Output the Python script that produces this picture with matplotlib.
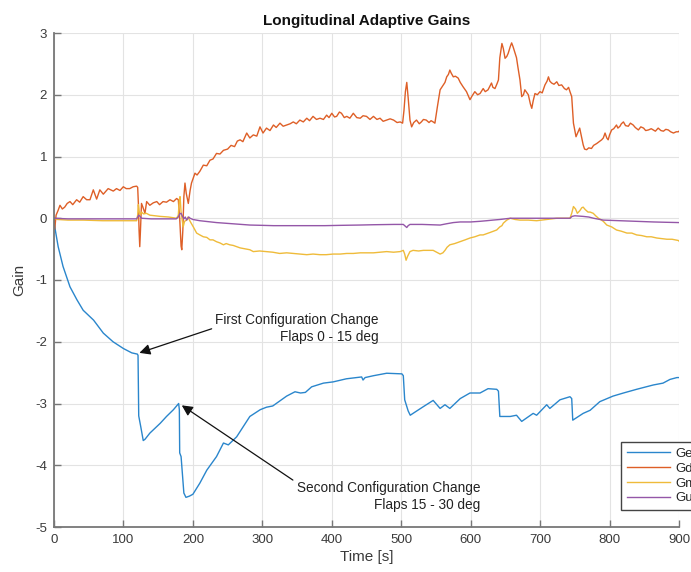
import matplotlib
matplotlib.use("Agg")
import matplotlib.pyplot as plt

plt.rcParams['font.family'] = ['Liberation Sans', 'DejaVu Sans']
plt.rcParams['axes.unicode_minus'] = False

# ---- data: time [s] and gain values for each adaptive gain ----
ge_t = [0, 2, 6, 13, 23, 33, 42, 57, 71, 85, 100, 112, 120, 121, 122, 125, 128.5, 131,
        138, 153, 162, 172, 179.5, 180.5, 181, 183, 187, 190, 195, 200, 210, 220, 234,
        244, 251, 263, 282, 297, 306, 315, 325, 335, 347, 355, 362, 371, 388, 402, 421,
        443, 445, 448, 460, 479, 501, 503, 505, 510, 513, 517, 532, 546, 556, 563, 570,
        585, 599, 613.5, 625, 637.5, 640, 642, 657, 666, 673.5, 690, 695, 709.5, 714,
        728.6, 743, 745.5, 747, 762, 772, 786, 805, 820, 839, 863, 877, 887, 897, 900]
ge_v = [0.0, -0.2, -0.46, -0.78, -1.11, -1.32, -1.49, -1.65, -1.86, -2.0, -2.11, -2.18,
        -2.2, -2.22, -3.2, -3.38, -3.6, -3.58, -3.48, -3.32, -3.21, -3.1, -3.0, -3.1, -3.8,
        -3.86, -4.45, -4.52, -4.5, -4.47, -4.29, -4.08, -3.86, -3.64, -3.67, -3.54, -3.21,
        -3.1, -3.06, -3.04, -2.96, -2.88, -2.81, -2.83, -2.82, -2.73, -2.67, -2.65, -2.6,
        -2.57, -2.62, -2.58, -2.55, -2.51, -2.52, -2.55, -2.94, -3.12, -3.19, -3.16, -3.05,
        -2.95, -3.08, -3.02, -3.08, -2.92, -2.83, -2.83, -2.76, -2.77, -2.8, -3.21, -3.21,
        -3.19, -3.29, -3.16, -3.19, -3.02, -3.08, -2.94, -2.89, -2.92, -3.27, -3.16, -3.11,
        -2.97, -2.88, -2.83, -2.77, -2.7, -2.67, -2.61, -2.58, -2.58]

gd_t = [0, 1, 3, 6, 8.6, 12, 15.4, 19, 23, 27, 32.6, 37, 42, 47, 51.8, 56.6, 61.4, 66, 71,
        78, 85.4, 90, 95, 99.8, 104, 109, 114, 119, 120.5, 121.5, 122.5, 123.5, 124.5, 126,
        128, 131, 133.4, 138, 143, 148, 152, 157, 162, 167, 172, 176.6, 179, 181, 183, 184,
        185.5, 187, 188.6, 190.5, 193.4, 196, 198, 203, 206, 210, 215, 220, 224.6, 229, 234,
        239, 244, 250, 255, 260, 264, 268, 272, 277.5, 282, 287, 292, 296.6, 301, 306, 311,
        316, 320, 325.4, 330, 335, 340, 344.6, 349, 354, 359, 364, 368, 373, 378, 383, 388,
        392.6, 396, 400, 404, 407, 411, 414, 418, 421.6, 426, 431, 436, 441, 445, 450, 455,
        460, 465, 469.5, 474, 479, 484, 489, 494, 498.5, 502, 504, 506, 508, 510, 512.6, 515,
        518, 522, 526, 529, 532, 536, 540, 543, 546, 548.5, 552, 556, 560.6, 563, 565.5, 568,
        570, 572, 575, 578, 582, 585, 589, 594, 599, 602, 606, 610, 613.5, 618, 621, 625,
        630, 632, 635, 638, 640, 642, 645, 647, 649.5, 652, 654, 657, 659, 661, 664, 666,
        668, 671, 673.5, 676, 678, 683, 686, 688, 690, 692.6, 696, 699.8, 703, 707, 710, 712,
        714, 716.6, 720, 724, 727, 731, 735, 738, 741, 743, 745.5, 748, 751.7, 754, 757, 759,
        762, 764, 767, 770, 774, 777, 781.5, 785, 788.6, 791, 793.5, 796, 798, 800, 803, 806,
        810, 812, 815, 817, 820, 823, 827, 830, 834, 837, 841.5, 845, 849, 852, 856, 860,
        863, 866, 870, 874, 877.6, 881, 884.6, 888, 892, 896, 899, 900]
gd_v = [0.0, -0.18, 0.05, 0.13, 0.21, 0.15, 0.18, 0.24, 0.27, 0.22, 0.3, 0.26, 0.35, 0.3,
        0.3, 0.46, 0.31, 0.46, 0.39, 0.48, 0.44, 0.48, 0.45, 0.51, 0.48, 0.48, 0.51, 0.52,
        0.5, 0.24, -0.2, -0.46, -0.2, 0.24, 0.18, 0.08, 0.27, 0.21, 0.25, 0.27, 0.22, 0.27,
        0.26, 0.3, 0.27, 0.32, 0.3, 0.0, -0.45, -0.51, -0.2, 0.35, 0.57, 0.4, 0.24, 0.45,
        0.57, 0.73, 0.7, 0.76, 0.86, 0.85, 0.94, 0.96, 1.05, 1.04, 1.1, 1.12, 1.18, 1.16,
        1.25, 1.27, 1.24, 1.38, 1.3, 1.35, 1.33, 1.48, 1.38, 1.46, 1.42, 1.51, 1.47, 1.54,
        1.49, 1.51, 1.53, 1.56, 1.53, 1.59, 1.56, 1.62, 1.58, 1.65, 1.6, 1.62, 1.6, 1.67,
        1.63, 1.7, 1.64, 1.65, 1.72, 1.7, 1.63, 1.65, 1.62, 1.7, 1.63, 1.62, 1.66, 1.65,
        1.6, 1.65, 1.6, 1.62, 1.57, 1.59, 1.61, 1.59, 1.55, 1.56, 1.54, 1.75, 2.05, 2.2,
        1.95, 1.59, 1.48, 1.55, 1.59, 1.53, 1.56, 1.6, 1.59, 1.55, 1.58, 1.56, 1.54, 1.8,
        2.08, 2.16, 2.2, 2.29, 2.33, 2.4, 2.35, 2.29, 2.3, 2.27, 2.2, 2.13, 2.05, 1.92, 1.98,
        2.05, 2.0, 2.02, 2.1, 2.05, 2.08, 2.19, 2.12, 2.1, 2.18, 2.24, 2.6, 2.83, 2.75, 2.59,
        2.62, 2.67, 2.78, 2.84, 2.78, 2.67, 2.6, 2.45, 2.24, 1.97, 2.0, 2.08, 2.0, 1.85,
        1.78, 1.9, 2.02, 2.0, 2.05, 2.03, 2.16, 2.22, 2.29, 2.22, 2.19, 2.17, 2.21, 2.15,
        2.16, 2.1, 2.08, 2.12, 2.05, 1.97, 1.54, 1.32, 1.38, 1.46, 1.35, 1.19, 1.12, 1.11,
        1.14, 1.13, 1.18, 1.21, 1.24, 1.27, 1.3, 1.38, 1.3, 1.27, 1.35, 1.43, 1.45, 1.51,
        1.46, 1.49, 1.53, 1.56, 1.5, 1.49, 1.54, 1.51, 1.47, 1.43, 1.48, 1.46, 1.42, 1.43,
        1.45, 1.43, 1.41, 1.46, 1.42, 1.41, 1.44, 1.43, 1.4, 1.38, 1.4, 1.4, 1.41]

gm_t = [0, 5, 20, 42, 70, 90, 110, 119, 120.5, 121.5, 122.5, 124, 126, 129, 133, 138, 145,
        153, 165, 176.6, 179, 180.5, 181.5, 183, 186, 188, 191, 193, 196, 200.6, 205.4, 210,
        215, 220, 224.6, 229, 234, 239, 244, 248, 253, 258, 263, 268, 272.6, 277, 282, 287,
        296, 306, 315, 325, 335, 344.6, 355, 364, 373, 383, 392, 402, 412, 421.6, 431, 441,
        450, 460, 470, 479, 489, 498.5, 503, 505, 507, 509, 512.6, 517, 525, 532, 540, 546,
        551, 556, 560, 563, 566, 570, 577, 584.6, 592, 599, 606, 613.5, 618, 628, 637.5,
        642, 645, 647, 652, 657, 664, 671, 683, 695, 709.5, 724, 743, 745.5, 748, 751,
        753.6, 757, 760, 762, 765, 769, 772, 776.5, 780, 784, 787, 791, 796, 803, 810, 817,
        825, 832, 839, 846, 853.6, 860, 868, 875, 882.6, 890, 899, 900]
gm_v = [0.0, -0.02, -0.03, -0.03, -0.04, -0.04, -0.04, -0.04, 0.05, 0.22, 0.12, 0.05, 0.1,
        0.07, 0.08, 0.05, 0.04, 0.03, 0.02, 0.0, 0.05, 0.3, 0.35, 0.1, -0.14, -0.05, -0.03,
        0.02, -0.05, -0.14, -0.24, -0.27, -0.3, -0.31, -0.35, -0.35, -0.38, -0.4, -0.43,
        -0.41, -0.43, -0.44, -0.46, -0.48, -0.49, -0.5, -0.51, -0.54, -0.53, -0.54, -0.55,
        -0.57, -0.56, -0.57, -0.58, -0.59, -0.58, -0.59, -0.59, -0.58, -0.58, -0.57, -0.57,
        -0.56, -0.56, -0.56, -0.55, -0.54, -0.55, -0.54, -0.52, -0.58, -0.68, -0.62, -0.54,
        -0.52, -0.53, -0.52, -0.52, -0.52, -0.55, -0.58, -0.56, -0.52, -0.47, -0.43, -0.41,
        -0.38, -0.35, -0.32, -0.3, -0.27, -0.27, -0.23, -0.19, -0.14, -0.12, -0.08, -0.03,
        0.0, -0.02, -0.03, -0.03, -0.04, -0.02, 0.0, 0.0, 0.08, 0.19, 0.15, 0.08, 0.12,
        0.17, 0.18, 0.14, 0.1, 0.1, 0.08, 0.04, 0.0, -0.02, -0.05, -0.11, -0.14, -0.19,
        -0.21, -0.24, -0.24, -0.27, -0.28, -0.3, -0.3, -0.32, -0.33, -0.34, -0.34, -0.36,
        -0.37]

gu_t = [0, 20, 60, 100, 119, 120.5, 122, 124, 126, 140, 160, 176, 179, 181, 183, 185, 187,
        189, 191, 194, 196, 200, 210, 222, 234, 246, 258, 270, 282, 300, 316, 340, 364, 390,
        412, 440, 460, 490, 503, 506, 508, 510, 512.6, 530, 556, 565, 575, 585, 600, 613,
        623, 632, 642, 657, 700, 743, 746, 750, 762, 770, 777, 791, 815, 839, 863, 880, 900]
gu_v = [0.0, -0.01, -0.01, -0.01, -0.01, 0.02, 0.05, 0.03, 0.0, -0.01, -0.01, -0.01, 0.02,
        0.07, 0.08, 0.03, -0.01, 0.02, -0.03, 0.02, 0.0, -0.02, -0.04, -0.055, -0.07, -0.08,
        -0.09, -0.1, -0.11, -0.115, -0.12, -0.12, -0.12, -0.12, -0.115, -0.11, -0.105, -0.1,
        -0.1, -0.13, -0.15, -0.12, -0.1, -0.1, -0.11, -0.09, -0.07, -0.06, -0.06, -0.05,
        -0.04, -0.03, -0.02, 0.0, 0.0, 0.0, 0.03, 0.04, 0.03, 0.02, 0.0, -0.03, -0.04, -0.05,
        -0.06, -0.065, -0.07]

series_labels = ["Ge", "Gd", "Gm", "Gu"]
series_colors = ["#2a86cc", "#de5f27", "#efbb3a", "#9457a8"]

x_ticks = [0, 100, 200, 300, 400, 500, 600, 700, 800, 900]
y_ticks = [-5, -4, -3, -2, -1, 0, 1, 2, 3]

# ---- figure ----
fig = plt.figure(figsize=(6.91, 5.72), dpi=100)
ax = fig.add_axes([54 / 691, 1 - 527 / 572, 625 / 691, 494 / 572])

for t, v, lab, col in zip([ge_t, gd_t, gm_t, gu_t], [ge_v, gd_v, gm_v, gu_v],
                          series_labels, series_colors):
    ax.plot(t, v, color=col, lw=1.0, label=lab)

ax.set_xlim(0, 900)
ax.set_ylim(-5, 3)
ax.set_xticks(x_ticks)
ax.set_yticks(y_ticks)
ax.grid(True, color="#e3e3e3", lw=0.8)
ax.set_axisbelow(True)

axis_gray = "#777777"
for side in ("top", "right"):
    ax.spines[side].set_visible(False)
for side in ("left", "bottom"):
    ax.spines[side].set_color(axis_gray)
    ax.spines[side].set_linewidth(1.3)
ax.tick_params(direction="in", length=5, width=1.0, color=axis_gray,
               labelcolor="#3a3a3a", labelsize=9.5, pad=5)

ax.set_title("Longitudinal Adaptive Gains", fontsize=11, fontweight="bold",
             color="#111111", pad=6)
ax.set_xlabel("Time [s]", fontsize=11, color="#3a3a3a", labelpad=3)
ax.set_ylabel("Gain", fontsize=11, color="#3a3a3a", labelpad=6)

# ---- annotations for configuration changes ----
ax.text(468, -1.785, "First Configuration Change\nFlaps 0 - 15 deg", ha="right",
        va="center", multialignment="right", fontsize=9.8, color="#222222",
        linespacing=1.3)
ax.annotate("", xy=(123, -2.18), xytext=(227, -1.79),
            arrowprops=dict(arrowstyle="-|>", color="#111111", lw=0.9,
                            mutation_scale=16, shrinkA=0, shrinkB=0))

ax.text(614, -4.51, "Second Configuration Change\nFlaps 15 - 30 deg", ha="right",
        va="center", multialignment="right", fontsize=9.8, color="#222222",
        linespacing=1.3)
ax.annotate("", xy=(184, -3.03), xytext=(344, -4.24),
            arrowprops=dict(arrowstyle="-|>", color="#111111", lw=0.9,
                            mutation_scale=16, shrinkA=0, shrinkB=0))

leg = ax.legend(loc="upper left", bbox_to_anchor=(621 / 691, 1 - 442 / 572),
                bbox_transform=fig.transFigure, borderaxespad=0, fontsize=9.5,
                fancybox=False, framealpha=1, edgecolor="#444444",
                handlelength=3.3, handletextpad=0.4, labelspacing=0.2,
                borderpad=0.42)
leg.get_frame().set_linewidth(1.0)
for txt in leg.get_texts():
    txt.set_color("#222222")

fig.savefig("out.png", dpi=100)
